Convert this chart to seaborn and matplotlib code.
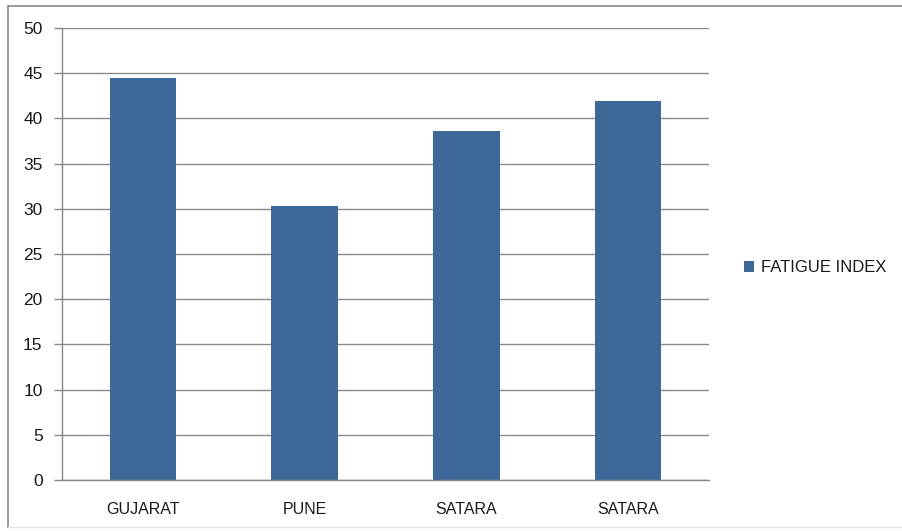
import matplotlib
matplotlib.use("Agg")
import matplotlib.pyplot as plt
import seaborn as sns
import pandas as pd
from matplotlib.lines import Line2D
from matplotlib.patches import Patch

categories = ["GUJARAT", "PUNE", "SATARA", "SATARA "]
tick_labels = ["GUJARAT", "PUNE", "SATARA", "SATARA"]
fatigue_index = [44.5, 30.3, 38.6, 41.9]
series_name = "FATIGUE INDEX"
yticks = [0, 5, 10, 15, 20, 25, 30, 35, 40, 45, 50]

sns.set_theme(style="white")
plt.rcParams['font.family'] = ['Liberation Sans', 'DejaVu Sans']

df = pd.DataFrame({"cat": categories, "val": fatigue_index})

fig = plt.figure(figsize=(9.02, 5.31), dpi=100)
ax = fig.add_axes([62/902, 1 - 480/531, (709 - 62)/902, (480 - 28)/531])

bar_color = "#3E6898"
sns.barplot(data=df, x="cat", y="val", color=bar_color, width=0.41,
            saturation=1, ax=ax, zorder=3, linewidth=0, edgecolor=bar_color)

ax.set_xlim(-0.5, len(categories) - 0.5)
ax.set_ylim(0, 50)
ax.set_yticks(yticks)
ax.set_yticklabels([str(t) for t in yticks], fontsize=12.5, color="#1a1a1a")
ax.set_xticks(range(len(categories)))
ax.set_xticklabels(tick_labels, fontsize=11.5, color="#1a1a1a")
ax.set_xticks([i - 0.5 for i in range(len(categories) + 1)], minor=True)
ax.tick_params(axis="x", which="major", length=0, pad=16)
ax.tick_params(axis="x", which="minor", length=7, width=1, color="#888888", direction="out")
ax.tick_params(axis="y", which="major", length=6, width=1, color="#888888", direction="out", pad=8, left=True)
ax.set_xlabel("")
ax.set_ylabel("")

ax.yaxis.grid(True, color="#8a8a8a", linewidth=1, zorder=0)
ax.xaxis.grid(False)
for s in ["top", "right"]:
    ax.spines[s].set_visible(False)
for s in ["left", "bottom"]:
    ax.spines[s].set_color("#888888")
    ax.spines[s].set_linewidth(1)
    ax.spines[s].set_zorder(4)

handle = Patch(facecolor=bar_color, edgecolor="none", label=series_name)
fig.legend(handles=[handle], loc="center left", bbox_to_anchor=(737/902, 1 - 268/531),
           frameon=False, fontsize=12, handlelength=0.6, handleheight=0.6,
           handletextpad=0.45, borderaxespad=0, labelcolor="#1a1a1a")

# outer chart border
fig.add_artist(Line2D([8/902, 8/902], [1 - 527/531, 1 - 6/531], color="#8a8a8a", lw=1.2, transform=fig.transFigure))
fig.add_artist(Line2D([8/902, 1.0], [1 - 6/531, 1 - 6/531], color="#8a8a8a", lw=1.2, transform=fig.transFigure))
fig.add_artist(Line2D([8/902, 1.0], [1 - 527/531, 1 - 527/531], color="#e6e6e6", lw=1.0, transform=fig.transFigure))

fig.savefig("out.png", dpi=100)
